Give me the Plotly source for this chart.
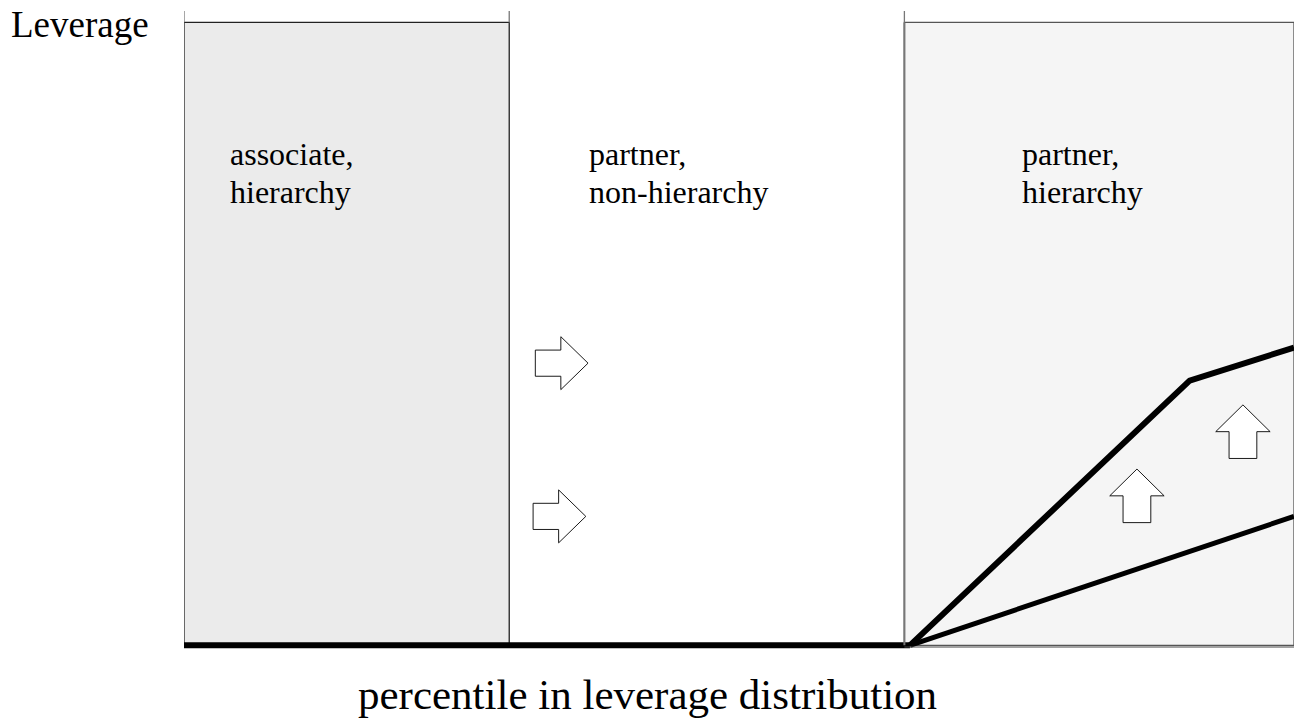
import plotly.graph_objects as go

# ---- data (percentile on x, leverage on y; conceptual units 0-100) ----
region_bounds = [0, 29.3, 64.9, 100]
region_lines1 = ["associate,", "partner,", "partner,"]
region_lines2 = ["hierarchy", "non-hierarchy", "hierarchy"]
region_fills = ["#ebebeb", "rgba(0,0,0,0)", "#f5f5f5"]

base_x = [0, 65.4]
base_y = [0, 0]
upper_x = [65.4, 90.6, 100]
upper_y = [0, 42.5, 47.8]
lower_x = [65.4, 100]
lower_y = [0, 20.7]

right_arrow_x = [31.65, 31.45]      # arrow tail x
right_arrow_y = [45.3, 20.7]        # arrow centre y
up_arrow_x = [85.85, 95.4]          # arrow centre x
up_arrow_y = [19.7, 30.0]           # arrow bottom y

W, H = 1294, 720
ML, MR, MT, MB = 184, 0, 10, 56
PW, PH = W - ML - MR, H - MT - MB
YR = [-3, 102]

def py(p):
    # pixel row -> y data value
    return YR[0] + (H - MB - p) / PH * (YR[1] - YR[0])

def px(p):
    return (p - ML) / PW * 100

fig = go.Figure()

# regions
for i in range(3):
    x0, x1 = region_bounds[i], region_bounds[i + 1]
    if i != 1:
        fig.add_shape(type="rect", x0=x0, x1=x1, y0=0, y1=100,
                      fillcolor=region_fills[i],
                      line=dict(color="#222222" if i == 0 else "#555555", width=1.3),
                      layer="below")
lab_x = [px(228), px(587), px(1020)]
for i in range(3):
    for txt, row in ((region_lines1[i], 154), (region_lines2[i], 192)):
        fig.add_annotation(x=lab_x[i], y=py(row), text=txt,
                           showarrow=False, xanchor="left", yanchor="middle", align="left",
                           font=dict(family="Liberation Serif", size=32, color="black"))

# small tick marks above the regions
for xb in region_bounds[:3]:
    fig.add_shape(type="line", x0=xb, x1=xb, y0=100, y1=py(11),
                  line=dict(color="#777777", width=1.3))
fig.add_shape(type="line", x0=region_bounds[2], x1=region_bounds[2], y0=0, y1=100,
              line=dict(color="#777777", width=2))
fig.add_shape(type="line", x0=region_bounds[2], x1=100, y0=py(647), y1=py(647),
              line=dict(color="#444444", width=1))

# lines
fig.add_trace(go.Scatter(x=base_x, y=base_y, mode="lines",
                         line=dict(color="black", width=6), hoverinfo="skip"))
fig.add_trace(go.Scatter(x=upper_x, y=upper_y, mode="lines",
                         line=dict(color="black", width=6), hoverinfo="skip"))
fig.add_trace(go.Scatter(x=lower_x, y=lower_y, mode="lines",
                         line=dict(color="black", width=5), hoverinfo="skip"))

# block arrows
def right_arrow(x0, yc, L=4.75, hs=2.3, Hh=4.25, h=2.1):
    xs = [x0, x0 + hs, x0 + hs, x0 + L, x0 + hs, x0 + hs, x0, x0]
    ys = [yc + h, yc + h, yc + Hh, yc, yc - Hh, yc - h, yc - h, yc + h]
    return xs, ys

def up_arrow(xc, yb, Ww=2.45, w=1.25, hb=4.3, tip=8.6):
    xs = [xc - w, xc - w, xc - Ww, xc, xc + Ww, xc + w, xc + w, xc - w]
    ys = [yb, yb + hb, yb + hb, yb + tip, yb + hb, yb + hb, yb, yb]
    return xs, ys

for ax, ay in zip(right_arrow_x, right_arrow_y):
    xs, ys = right_arrow(ax, ay)
    fig.add_trace(go.Scatter(x=xs, y=ys, mode="lines", fill="toself", fillcolor="white",
                             line=dict(color="black", width=0.9), hoverinfo="skip"))
for ax, ay in zip(up_arrow_x, up_arrow_y):
    xs, ys = up_arrow(ax, ay)
    fig.add_trace(go.Scatter(x=xs, y=ys, mode="lines", fill="toself", fillcolor="white",
                             line=dict(color="black", width=0.9), hoverinfo="skip"))

fig.add_annotation(xref="paper", yref="paper", x=(80 - ML) / PW, y=(H - MB - 24) / PH,
                   text="Leverage", showarrow=False, xanchor="center", yanchor="middle",
                   font=dict(family="Liberation Serif", size=37, color="black"))
fig.add_annotation(xref="paper", yref="paper", x=(647 - ML) / PW, y=(H - MB - 694) / PH,
                   text="percentile in leverage distribution",
                   showarrow=False, xanchor="center", yanchor="middle",
                   font=dict(family="Liberation Serif", size=43, color="black"))

fig.update_xaxes(range=[0, 100], visible=False, fixedrange=True)
fig.update_yaxes(range=YR, visible=False, fixedrange=True)
fig.update_layout(width=W, height=H, showlegend=False,
                  margin=dict(l=ML, r=MR, t=MT, b=MB, pad=0),
                  plot_bgcolor="white", paper_bgcolor="white")
fig.write_html("out.html", config={"displayModeBar": False},
               post_script="document.body.style.margin='0';document.body.style.overflow='hidden';")
